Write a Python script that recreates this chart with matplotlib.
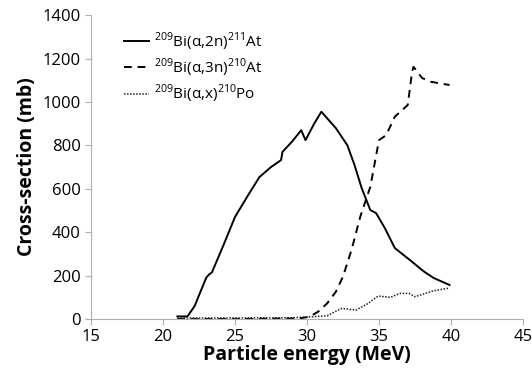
import matplotlib
matplotlib.use("Agg")
import matplotlib.pyplot as plt

plt.rcParams["font.family"] = ["Open Sans", "DejaVu Sans"]
plt.rcParams["mathtext.fontset"] = "custom"
plt.rcParams["mathtext.rm"] = "Open Sans"

# (alpha,2n) 211At
e_2n = [21.0, 21.7, 22.2, 23.0, 23.2, 23.4, 24.2, 25.0, 26.0, 26.7, 27.5, 28.2, 28.3,
        29.0, 29.6, 29.9, 30.5, 31.0, 32.0, 32.8, 33.3, 33.8, 34.4, 34.8, 35.4, 36.1,
        36.8, 37.3, 37.4, 38.1, 38.8, 39.9]
s_2n = [12, 12, 60, 190, 205, 215, 340, 470, 580, 654, 700, 732, 770,
        820, 870, 824, 900, 955, 880, 801, 710, 603, 502, 488, 420, 327,
        290, 264, 258, 220, 189, 157]

# (alpha,3n) 210At
e_3n = [21.0, 25.0, 29.5, 30.2, 30.8, 31.4, 32.0, 32.5, 33.1, 33.7, 34.4, 35.0,
        35.5, 36.1, 37.0, 37.3, 37.4, 38.0, 38.6, 39.9]
s_3n = [0, 0, 3, 11, 35, 72, 125, 195, 320, 471, 609, 824,
        847, 932, 986, 1139, 1162, 1110, 1093, 1078]

# (alpha,x) 210Po
e_po = [21.0, 25.0, 29.0, 30.2, 31.4, 32.4, 33.4, 34.2, 34.95, 35.8, 36.45, 37.1,
        37.5, 38.8, 39.9]
s_po = [5, 5, 6, 10, 15, 49, 41, 70, 106, 100, 118, 118,
        103, 130, 143]

labels = [r"$^{209}$Bi(α,2n)$^{211}$At",
          r"$^{209}$Bi(α,3n)$^{210}$At",
          r"$^{209}$Bi(α,x)$^{210}$Po"]

fig = plt.figure(figsize=(5.32, 3.78), dpi=100)
ax = fig.add_axes([0.171, 0.156, 0.812, 0.804])

ax.plot(e_2n, s_2n, color="black", lw=1.4, ls="-", label=labels[0])
ax.plot(e_3n, s_3n, color="black", lw=1.4, ls=(0, (4, 3)), label=labels[1])
ax.plot(e_po, s_po, color="#222222", lw=1.1, ls=(0, (1, 1)), label=labels[2])

ax.set_xlim(15, 45)
ax.set_ylim(0, 1400)
ax.set_xticks([15, 20, 25, 30, 35, 40, 45])
ax.set_yticks(range(0, 1401, 200))

for s in ["top", "right"]:
    ax.spines[s].set_visible(False)
for s in ["left", "bottom"]:
    ax.spines[s].set_color("#b0b0b0")
ax.tick_params(axis="both", colors="#b0b0b0", labelcolor="black", labelsize=12, length=4)

ax.set_xlabel("Particle energy (MeV)", fontsize=14, fontweight="bold", labelpad=0)
ax.set_ylabel("Cross-section (mb)", fontsize=14, fontweight="bold", labelpad=4)

ax.legend(loc="upper left", bbox_to_anchor=(0.045, 0.995), frameon=False, fontsize=11,
          handlelength=1.6, handletextpad=0.35, labelspacing=0.25)

fig.savefig("out.png", dpi=100)
